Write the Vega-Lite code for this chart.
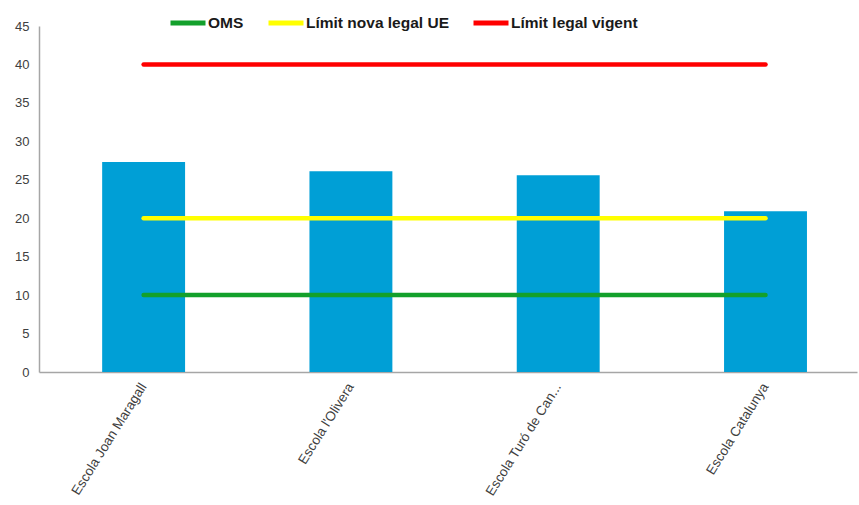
{
  "$schema": "https://vega.github.io/schema/vega-lite/v6.json",
  "width": 818,
  "height": 346,
  "autosize": {"type": "none"},
  "padding": {"left": 39, "top": 26, "right": 2, "bottom": 133},
  "background": "white",
  "config": {
    "view": {"stroke": null},
    "font": "Liberation Sans",
    "axis": {"grid": false, "ticks": false, "domainColor": "#a6a6a6", "domainWidth": 1.5, "labelColor": "#404040", "labelFontSize": 13, "title": null}
  },
  "datasets": {
    "bars": [
      {"school": "Escola Joan Maragall", "value": 27.3},
      {"school": "Escola l'Olivera", "value": 26.1},
      {"school": "Escola Turó de Can...", "value": 25.6},
      {"school": "Escola Catalunya", "value": 20.9}
    ],
    "limits": [
      {"school": "Escola Joan Maragall", "series": "OMS", "value": 10},
      {"school": "Escola l'Olivera", "series": "OMS", "value": 10},
      {"school": "Escola Turó de Can...", "series": "OMS", "value": 10},
      {"school": "Escola Catalunya", "series": "OMS", "value": 10},
      {"school": "Escola Joan Maragall", "series": "Límit nova legal UE", "value": 20},
      {"school": "Escola l'Olivera", "series": "Límit nova legal UE", "value": 20},
      {"school": "Escola Turó de Can...", "series": "Límit nova legal UE", "value": 20},
      {"school": "Escola Catalunya", "series": "Límit nova legal UE", "value": 20},
      {"school": "Escola Joan Maragall", "series": "Límit legal vigent", "value": 40},
      {"school": "Escola l'Olivera", "series": "Límit legal vigent", "value": 40},
      {"school": "Escola Turó de Can...", "series": "Límit legal vigent", "value": 40},
      {"school": "Escola Catalunya", "series": "Límit legal vigent", "value": 40}
    ]
  },
  "encoding": {
    "x": {
      "field": "school", "type": "nominal", "sort": null,
      "scale": {"paddingInner": 0.6, "paddingOuter": 0.273, "align": 0.558},
      "axis": {"labelAngle": -58, "labelFontSize": 13.5, "labelPadding": 12, "labelLimit": 250}
    },
    "y": {
      "field": "value", "type": "quantitative",
      "scale": {"domain": [0, 45]},
      "axis": {"values": [0, 5, 10, 15, 20, 25, 30, 35, 40, 45], "labelPadding": 10}
    }
  },
  "layer": [
    {
      "data": {"name": "bars"},
      "mark": {"type": "bar", "color": "#009fd6"}
    },
    {
      "data": {"name": "limits"},
      "mark": {"type": "line", "strokeWidth": 4.5, "strokeCap": "round"},
      "encoding": {
        "color": {
          "field": "series", "type": "nominal",
          "scale": {"domain": ["OMS", "Límit nova legal UE", "Límit legal vigent"], "range": ["#13a02b", "#ffff00", "#ff0000"]},
          "legend": {
            "title": null, "orient": "none", "direction": "horizontal",
            "legendX": 129, "legendY": -23, "padding": 0,
            "symbolType": "stroke", "symbolSize": 1225, "symbolStrokeWidth": 5,
            "labelFontSize": 15.5, "labelFontWeight": "bold", "labelColor": "#1a1a1a",
            "labelOffset": 0, "columnPadding": 14
          }
        }
      }
    }
  ]
}
